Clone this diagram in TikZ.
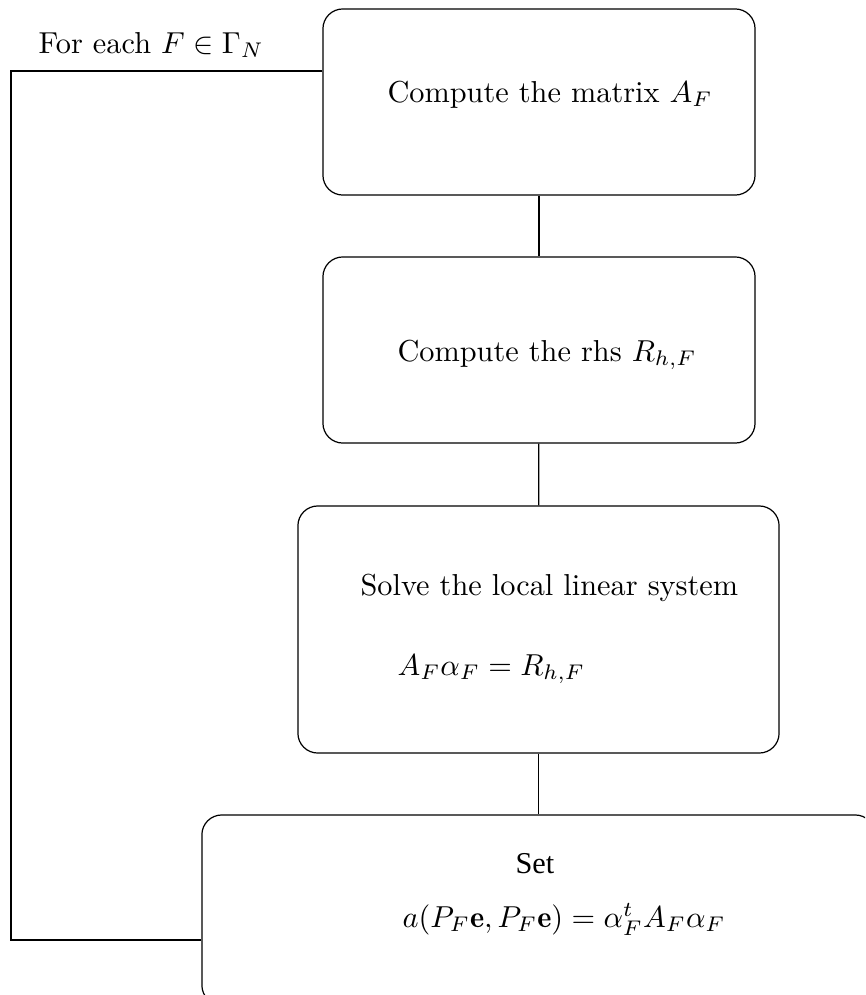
\documentclass[tikz,border=0pt]{standalone}
\usepackage{fontspec}
\newfontfamily\timesfont{Liberation Serif}
\begin{document}
\begin{tikzpicture}[x=0.0116cm, y=-0.0116cm,
    stepbox/.style={draw, rectangle, rounded corners=0.23cm},
    txt/.style={anchor=base west, inner sep=0pt}]
        \useasboundingbox (0,0) rectangle (865,995);
        \clip (0,0) rectangle (865,995);

        % Steps
        \node[stepbox, minimum width=5.011cm, minimum height=2.158cm] (matrix_step) at (539, 102) {};
        \node[stepbox, minimum width=5.011cm, minimum height=2.158cm] (rhs_step) at (539, 350) {};
        \node[stepbox, minimum width=5.580cm, minimum height=2.865cm] (solve_step) at (538.5, 629.5) {};
        \node[stepbox, minimum width=7.807cm, minimum height=2.204cm] (set_step) at (538.5, 910) {};

        % Texts
        \node[txt] (loop_text) at (38, 53) {For each $F \in \Gamma_N$};
        \node[txt] (matrix_text) at (387, 102) {Compute the matrix $A_F$};
        \node[txt] (rhs_text) at (397, 361) {Compute the rhs $R_{h,F}$};
        \node[txt] (solve_text) at (360, 595) {Solve the local linear system};
        \node[txt] (solve_eq) at (397, 675) {$A_F\alpha_F = R_{h,F}$};
        \node[txt, font=\timesfont] (set_text) at (515, 873) {Set};
        \node[txt] (set_eq) at (402, 927) {$a(P_F\mathbf{e}, P_F\mathbf{e}) = \alpha_F^t A_F\alpha_F$};

        % Loop
        \coordinate (loop_top) at (11, 71);
        \coordinate (loop_bottom) at (11, 940);

        % Connections
        \draw (matrix_step) -- (rhs_step);
        \draw (rhs_step) -- (solve_step);
        \draw (solve_step) -- (set_step);
        \draw (matrix_step.west |- loop_top) -- (loop_top) -- (loop_bottom) -- (loop_bottom -| set_step.west);
    \end{tikzpicture}
\end{document}
